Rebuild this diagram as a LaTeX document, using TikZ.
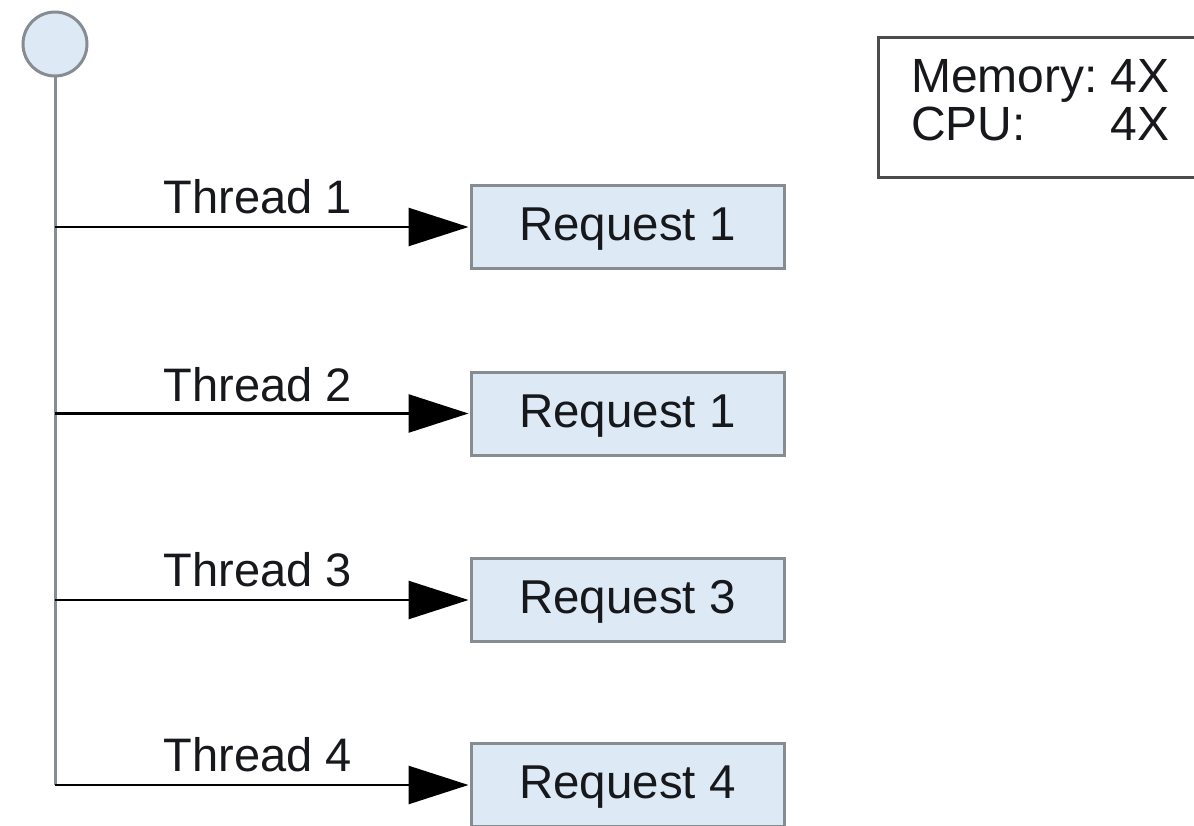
\documentclass[tikz,border=0pt]{standalone}
\usepackage{fontspec}
\setmainfont{Liberation Sans}
\usetikzlibrary{arrows.meta}
\definecolor{boxfill}{RGB}{221,234,246}
\definecolor{boxline}{RGB}{135,140,145}
\definecolor{txt}{RGB}{22,24,28}
\tikzset{
  reqbox/.style={draw=boxline, line width=3pt, fill=boxfill, minimum width=313pt, minimum height=83pt, inner sep=0pt, text=txt, font=\fontsize{47.5}{50}\selectfont, text height=35pt, text depth=8pt},
  thr/.style={draw=black, line width=2.6pt, -{Triangle[length=60pt,width=38pt]}, shorten >=1pt},
  thrlabel/.style={anchor=base, text=txt, font=\fontsize{47}{50}\selectfont, inner sep=0pt},
}
\begin{document}
\begin{tikzpicture}[x=1pt,y=-1pt]
\useasboundingbox (0,0) rectangle (1194,826);
\clip (0,0) rectangle (1194,826);
\fill[white] (0,0) rectangle (1194,826);
% start circle
\node (start) [circle, draw=boxline, line width=3pt, fill=boxfill, minimum size=64pt, inner sep=0pt] at (55,44) {};
\coordinate (bottom) at (55,785);
\draw[draw=boxline, line width=3pt] (start.south) -- (bottom);
% request boxes
\node (r1) [reqbox] at (627.5,227) {Request 1};
\node (r2) [reqbox] at (627.5,413.5) {Request 1};
\node (r3) [reqbox] at (627.5,600) {Request 3};
\node (r4) [reqbox] at (627.5,785) {Request 4};
% thread connectors
\coordinate (t1) at (55,227);
\coordinate (t2) at (55,413.5);
\coordinate (t3) at (55,600);
\coordinate (t4) at (55,785);
\draw[thr] (t1) -- (r1.west);
\draw[thr] (t2) -- (r2.west);
\draw[thr] (t3) -- (r3.west);
\draw[thr] (t4) -- (r4.west);
\node (l1) [thrlabel] at (258,214) {Thread 1};
\node (l2) [thrlabel] at (258,401) {Thread 2};
\node (l3) [thrlabel] at (258,586) {Thread 3};
\node (l4) [thrlabel] at (258,771) {Thread 4};
% resource box
\node (mem) [draw=black!70, line width=3pt, fill=white, minimum width=330pt, minimum height=140pt, inner sep=0pt] at (1043,107.5) {};
\node (memtext) [anchor=west, text=txt, inner sep=0pt, font=\fontsize{48}{48}\selectfont] at (911,107) {\begin{tabular}{@{}l@{\hspace{13pt}}r@{}}Memory: & 4X\\ CPU: & 4X\end{tabular}};
\end{tikzpicture}
\end{document}
